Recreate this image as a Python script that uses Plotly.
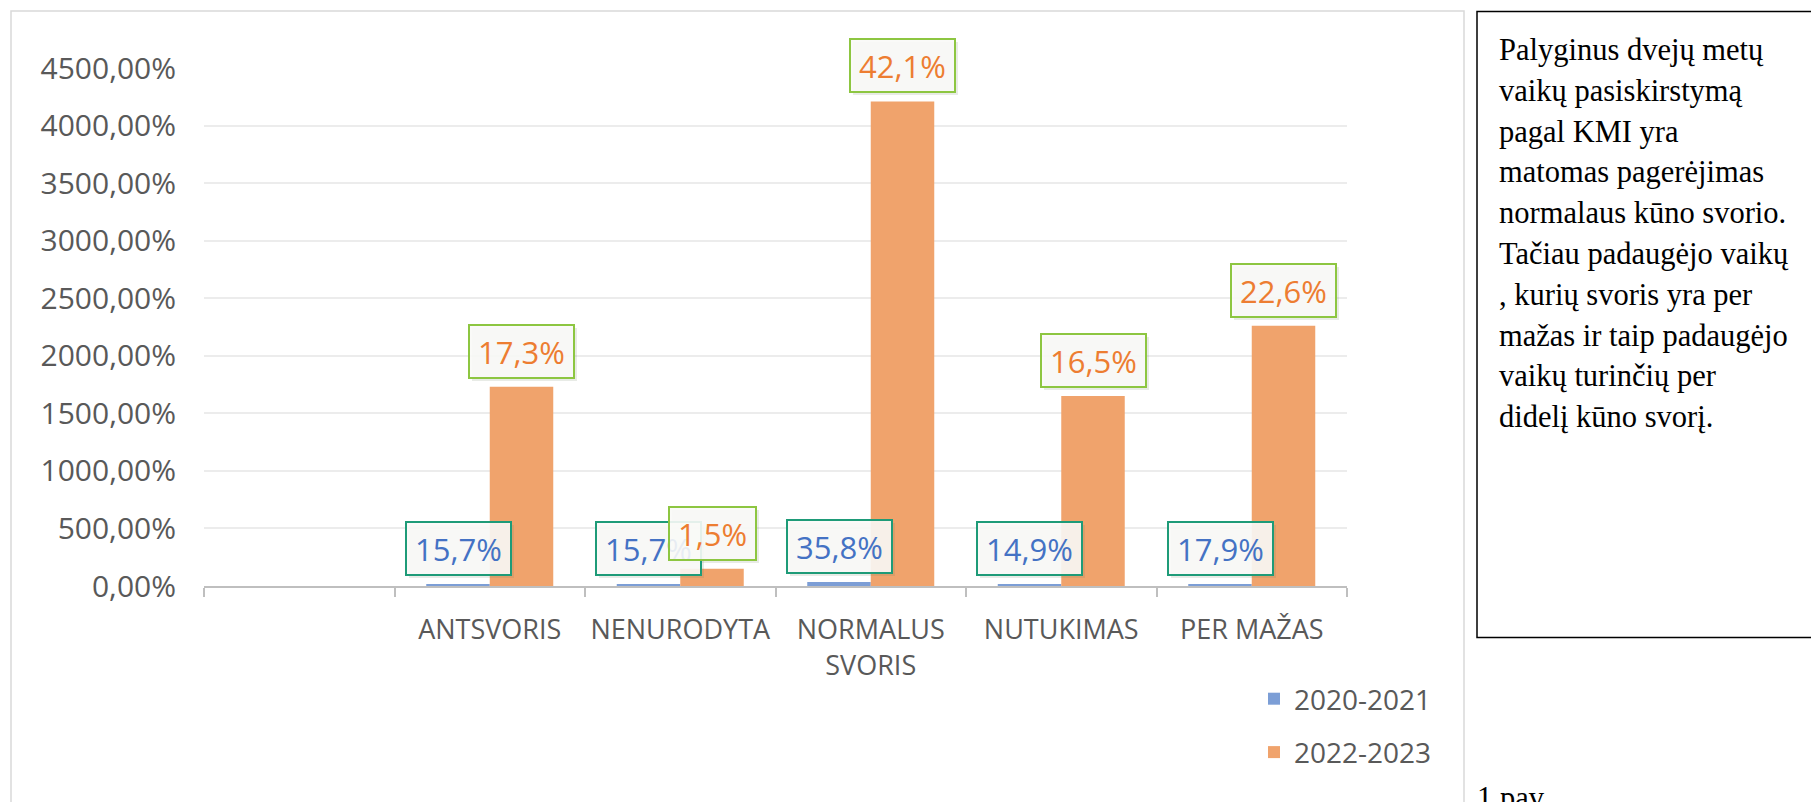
import plotly.graph_objects as go

# ---------------- data ----------------
categories = [" ", "ANTSVORIS", "NENURODYTA", "NORMALUS<br>SVORIS", "NUTUKIMAS", "PER MAŽAS"]
series_names = ["2020-2021", "2022-2023"]
values_2020 = [None, 0.157, 0.157, 0.358, 0.149, 0.179]
values_2022 = [None, 17.30, 1.50, 42.10, 16.50, 22.60]
labels_2020 = ["", "15,7%", "15,7%", "35,8%", "14,9%", "17,9%"]
labels_2022 = ["", "17,3%", "1,5%", "42,1%", "16,5%", "22,6%"]
y_ticks = [0, 5, 10, 15, 20, 25, 30, 35, 40, 45]
note_lines = [
    "Palyginus dvejų metų",
    "vaikų pasiskirstymą",
    "pagal KMI yra",
    "matomas pagerėjimas",
    "normalaus kūno svorio.",
    "Tačiau padaugėjo vaikų",
    ", kurių svoris yra per",
    "mažas ir taip padaugėjo",
    "vaikų turinčių per",
    "didelį kūno svorį.",
]
caption = "1 pav."

# ---------------- style ----------------
W, H = 1811, 802
L, R, T, B = 204, 464, 68, 216
PW, PH = W - L - R, H - T - B
BARGAP = 1 / 3
FONT = "Open Sans"
GREY_TXT = "#595959"
BLUE = "#7C9ED6"
ORANGE = "#F0A36C"
BLUE_TXT = "#4472C4"
ORANGE_TXT = "#ED7D31"
BLUE_BORDER = "#1E9B78"
ORANGE_BORDER = "#8DC641"


def px_x(px):
    return (px - L) / PW


def px_y(py):
    return (H - B - py) / PH


fig = go.Figure()
fig.add_trace(go.Bar(x=categories, y=values_2020, name=series_names[0],
                     marker=dict(color=BLUE, line=dict(width=0)),
                     legendgroup="a"))
fig.add_trace(go.Bar(x=categories, y=values_2022, name=series_names[1],
                     marker=dict(color=ORANGE, line=dict(width=0)),
                     legendgroup="b"))

half = (1 - BARGAP) / 4  # offset of each bar centre from category centre

annotations = []
# soft shadows first (drawn behind the label boxes)
for vals, labs, off in ((values_2020, labels_2020, -half), (values_2022, labels_2022, half)):
    for i, (v, t) in enumerate(zip(vals, labs)):
        if v is None:
            continue
        annotations.append(dict(
            x=i + off, y=v, xref="x", yref="y", text=t, showarrow=False,
            yanchor="bottom", xanchor="center", yshift=5, xshift=3,
            font=dict(family=FONT, size=31, color="rgba(0,0,0,0)"),
            bgcolor="rgba(110,130,100,0.16)", bordercolor="rgba(0,0,0,0)",
            borderwidth=2, borderpad=8, height=35))
for vals, labs, off, tc, bc in ((values_2020, labels_2020, -half, BLUE_TXT, BLUE_BORDER),
                                (values_2022, labels_2022, half, ORANGE_TXT, ORANGE_BORDER)):
    for i, (v, t) in enumerate(zip(vals, labs)):
        if v is None:
            continue
        annotations.append(dict(
            x=i + off, y=v, xref="x", yref="y", text=t, showarrow=False,
            yanchor="bottom", xanchor="center", yshift=8,
            font=dict(family=FONT, size=31, color=tc),
            bgcolor="rgba(249,249,247,0.9)", bordercolor=bc,
            borderwidth=2, borderpad=8, height=35))

# side note text, one line each
for k, line in enumerate(note_lines):
    annotations.append(dict(
        x=px_x(1497), y=px_y(50 + k * 40.8), xref="paper", yref="paper",
        text=line, showarrow=False, xanchor="left", yanchor="middle", align="left",
        font=dict(family="Liberation Serif", size=30.5, color="#000000")))
annotations.append(dict(
    x=px_x(1475), y=px_y(779), xref="paper", yref="paper", text=caption,
    showarrow=False, xanchor="left", yanchor="top",
    font=dict(family="Liberation Serif", size=30.5, color="#000000")))

shapes = [
    dict(type="rect", xref="paper", yref="paper",
         x0=px_x(11), x1=px_x(1464), y0=px_y(11), y1=px_y(840),
         line=dict(color="#d9d9d9", width=1.5), fillcolor="rgba(0,0,0,0)", layer="below"),
    dict(type="rect", xref="paper", yref="paper",
         x0=px_x(1477), x1=px_x(1840), y0=px_y(11.5), y1=px_y(637.5),
         line=dict(color="#000000", width=1.5), fillcolor="rgba(0,0,0,0)"),
]

fig.update_layout(
    width=W, height=H,
    margin=dict(l=L, r=R, t=T, b=B, pad=0),
    paper_bgcolor="white", plot_bgcolor="white",
    barmode="group", bargap=BARGAP, bargroupgap=0,
    separators=", ",
    font=dict(family=FONT, color=GREY_TXT),
    showlegend=True,
    legend=dict(x=px_x(1254), xanchor="left", y=px_y(674), yanchor="top",
                font=dict(family=FONT, size=28, color=GREY_TXT),
                traceorder="grouped", tracegroupgap=14,
                bgcolor="rgba(0,0,0,0)", borderwidth=0),
    annotations=annotations,
    shapes=shapes,
)
fig.update_xaxes(
    type="category", range=[-0.5, len(categories) - 0.5],
    showline=True, linecolor="#bfbfbf", linewidth=2,
    ticks="outside", tickson="boundaries", ticklen=9, tickcolor="#bfbfbf", tickwidth=2,
    tickfont=dict(family=FONT, size=27, color=GREY_TXT),
    tickangle=0, ticklabelstandoff=19,
    showgrid=False, fixedrange=True,
)
fig.update_yaxes(
    range=[0, 45], tickvals=y_ticks, tickformat=".2%",
    showgrid=True, gridcolor="#ececec", gridwidth=1.5,
    zeroline=False, showline=False, ticks="",
    tickfont=dict(family=FONT, size=30, color=GREY_TXT),
    ticklabelstandoff=27,
)

fig.write_html(
    "out.html",
    config={"displayModeBar": False},
    post_script="document.body.style.margin='0';document.body.style.overflow='hidden';",
)
